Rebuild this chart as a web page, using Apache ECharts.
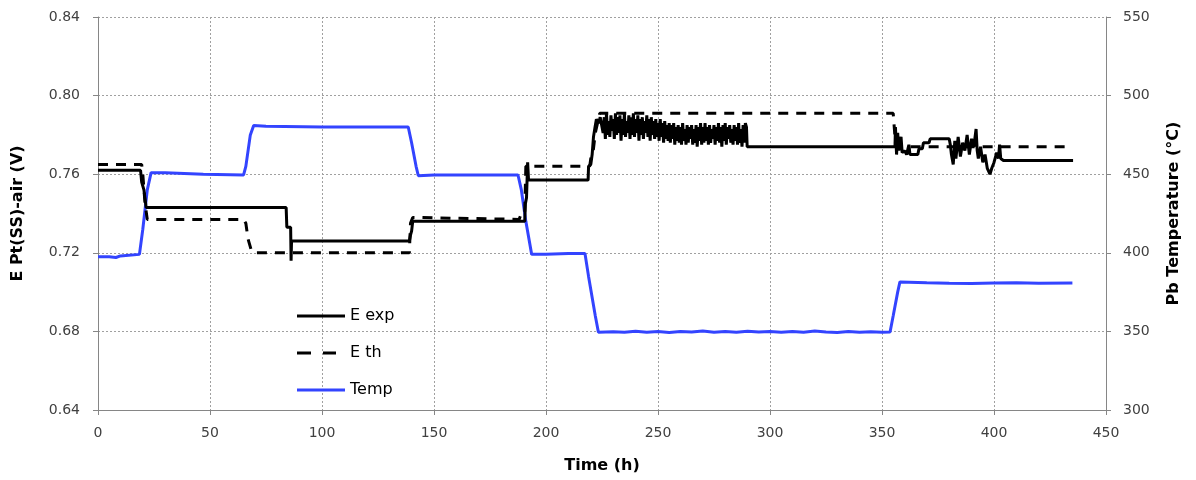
<!DOCTYPE html>
<html><head><meta charset="utf-8">
<script src="https://cdn.jsdelivr.net/npm/echarts@6/dist/echarts.min.js"></script>
<style>html,body{margin:0;padding:0;background:#fff}#c{width:1196px;height:480px}</style>
</head><body><div id="c"></div>
<script>
// Axis ticks
const xTicks = [0, 50, 100, 150, 200, 250, 300, 350, 400, 450];
const leftTicks = [0.64, 0.68, 0.72, 0.76, 0.80, 0.84];
const rightTicks = [300, 350, 400, 450, 500, 550];
const seriesNames = ['E exp', 'E th', 'Temp'];

// E exp (V): [time h, value]
const eExp = [[0,0.762],[19,0.762],[19.5,0.756],[20.5,0.752],[21.5,0.743],[84,0.743],[84.3,0.733],[86,0.733],[86.2,0.716],[86.4,0.726],
  [139,0.726],[139.5,0.729],[140,0.731],[140.5,0.736],[190.5,0.736],[190.8,0.745],[191.3,0.748],[191.8,0.766],[192.2,0.757],[218.8,0.757],
  [219,0.764],[220,0.765],[220.6,0.770],[221.2,0.779],[221.9,0.784],[222.5,0.788],[223.5,0.786],[224.2,0.789],
  [225,0.790],[225.5,0.781],[226,0.789],[226.5,0.778],[227,0.791],[227.5,0.780],[228,0.787],[228.5,0.779],[229,0.790],[229.5,0.782],
  [230,0.788],[230.5,0.778],[231,0.791],[231.5,0.780],[232,0.789],[232.5,0.781],[233,0.790],[233.5,0.777],[234,0.788],[234.5,0.780],
  [235,0.791],[235.5,0.779],[236,0.787],[236.5,0.781],[237,0.790],[237.5,0.778],[238,0.789],[238.5,0.780],[239,0.791],[239.5,0.779],
  [240,0.788],[240.5,0.781],[241,0.790],[241.5,0.777],[242,0.788],[242.5,0.780],[243,0.789],[243.5,0.778],[244,0.787],[244.5,0.781],
  [245,0.790],[245.5,0.779],[246,0.788],[246.5,0.777],[247,0.789],[247.5,0.780],[248,0.787],[248.5,0.778],[249,0.788],[249.5,0.779],
  [250,0.786],[250.5,0.777],[251,0.788],[251.5,0.779],[252,0.786],[252.5,0.776],[253,0.787],[253.5,0.778],[254,0.785],[254.5,0.777],
  [255,0.786],[255.5,0.776],[256,0.785],[256.5,0.778],[257,0.786],[257.5,0.775],[258,0.784],[258.5,0.777],[259,0.785],[259.5,0.776],
  [260,0.784],[260.5,0.775],[261,0.786],[261.5,0.777],[262,0.783],[262.5,0.775],[263,0.785],[263.5,0.776],[264,0.784],[264.5,0.778],
  [265,0.785],[265.5,0.775],[266,0.783],[266.5,0.776],[267,0.785],[267.5,0.774],[268,0.784],[268.5,0.777],[269,0.786],[269.5,0.775],
  [270,0.784],[270.5,0.776],[271,0.786],[271.5,0.777],[272,0.784],[272.5,0.775],[273,0.785],[273.5,0.776],[274,0.783],[274.5,0.778],
  [275,0.785],[275.5,0.775],[276,0.784],[276.5,0.777],[277,0.786],[277.5,0.776],[278,0.784],[278.5,0.774],[279,0.785],[279.5,0.777],
  [280,0.786],[280.5,0.775],[281,0.784],[281.5,0.778],[282,0.785],[282.5,0.776],[283,0.783],[283.5,0.775],[284,0.785],[284.5,0.777],
  [285,0.784],[285.5,0.775],[286,0.786],[286.5,0.776],[287,0.783],[287.5,0.774],[288,0.785],[288.5,0.776],[289,0.786],[289.5,0.784],[289.8,0.774],
  [355.8,0.774],[356,0.784],[356.5,0.770],[357,0.781],[357.5,0.772],[358.5,0.779],[359,0.771],[360,0.772],[361,0.770],[362,0.775],[362.5,0.770],
  [366,0.770],[366.5,0.773],[368,0.773],[368.5,0.776],[371,0.776],[371.5,0.778],[380,0.778],[380.5,0.775],[381,0.770],[381.8,0.765],
  [382.5,0.777],[383,0.768],[384,0.779],[385,0.769],[386,0.776],[387,0.772],[388,0.780],[389,0.770],[390,0.778],[391,0.774],[392,0.783],
  [392.5,0.772],[393,0.768],[394,0.774],[395,0.766],[396,0.770],[397,0.763],[398.2,0.760],[399,0.763],[400,0.766],[401.2,0.771],
  [402,0.768],[402.5,0.775],[403,0.768],[404.2,0.767],[435.3,0.767]];

// E th (V)
const eTh = [[0,0.765],[19.5,0.765],[20,0.760],[21,0.745],[22,0.737],[65,0.737],[66,0.735],[67,0.727],[68.5,0.721],[70,0.720],
  [139,0.720],[139.5,0.735],[140.5,0.738],[188,0.737],[189,0.740],[190.5,0.740],[191,0.764],[219.5,0.764],[220,0.768],[221,0.771],
  [222,0.781],[223,0.786],[224,0.791],[355,0.791],[356,0.776],[357,0.774],[435,0.774]];

// Pb temperature (°C)
const temp = [[0,397.5],[5,397.5],[8,397],[10,398],[18.5,399],[20,415],[22,440],[23.7,451],[30,451],[47,450],[65,449.5],[66,455],
  [68,475],[69.5,481],[75,480.5],[100,480],[138.5,480],[140,470],[142,455],[143,449],[150,449.5],[187.5,449.5],[189,440],[191,420],
  [193.6,399],[200,399],[210,399.5],[217.4,399.5],[219,385],[222,360],[223.4,349.5],
  [230,349.8],[235,349.4],[240,350.1],[245,349.5],[250,349.9],[255,349.3],[260,350],[265,349.6],[270,350.2],[275,349.4],[280,349.9],
  [285,349.5],[290,350.1],[295,349.6],[300,349.9],[305,349.4],[310,350],[315,349.5],[320,350.2],[325,349.6],[330,349.3],[335,350],
  [340,349.5],[345,349.8],[350,349.4],[353.6,349.6],[355,360],[357,375],[358,381.5],[370,381],[380,380.7],[390,380.5],[400,380.8],
  [410,381],[420,380.6],[435,380.8]];

const FONT = '"DejaVu Sans", sans-serif';
const chart = echarts.init(document.getElementById('c'), null, {renderer: 'canvas'});
const axisLine = {show: true, lineStyle: {color: '#868686', width: 1}};
const tick = {show: true, length: 5, lineStyle: {color: '#868686'}};
const split = {show: true, lineStyle: {color: '#a0a0a0', type: [2, 2], width: 1}};
const solidIcon = 'path://M0,0 H48 V3 H0 Z';
const dashIcon = 'path://M0,0 H14 V3 H0 Z M26,0 H39 V3 H26 Z M47.9,0 H48 V0.01 H47.9 Z';
chart.setOption({
  animation: false,
  grid: {left: 98, right: 90, top: 17, bottom: 70, containLabel: false},
  legend: {
    orient: 'vertical', left: 292, top: 303, itemWidth: 48, itemHeight: 3, itemGap: 21,
    textStyle: {fontFamily: FONT, fontSize: 16, color: '#000'},
    data: [
      {name: seriesNames[0], icon: solidIcon},
      {name: seriesNames[1], icon: dashIcon},
      {name: seriesNames[2], icon: solidIcon}
    ]
  },
  xAxis: {
    type: 'value', min: xTicks[0], max: xTicks[xTicks.length - 1], interval: 50,
    axisLine: axisLine, axisTick: tick, splitLine: split,
    axisLabel: {fontFamily: FONT, fontSize: 14, color: '#404040', margin: 16},
    name: 'Time (h)', nameLocation: 'middle', nameGap: 48,
    nameTextStyle: {fontFamily: FONT, fontSize: 16, fontWeight: 'bold', color: '#000'}
  },
  yAxis: [{
    type: 'value', min: leftTicks[0], max: leftTicks[leftTicks.length - 1], interval: 0.04,
    axisLine: axisLine, axisTick: tick, splitLine: split,
    axisLabel: {fontFamily: FONT, fontSize: 14, color: '#404040', margin: 18, formatter: v => v.toFixed(2)},
    name: 'E Pt(SS)-air (V)', nameLocation: 'middle', nameGap: 72, nameRotate: 90,
    nameTextStyle: {fontFamily: FONT, fontSize: 16, fontWeight: 'bold', color: '#000'}
  }, {
    type: 'value', min: rightTicks[0], max: rightTicks[rightTicks.length - 1], interval: 50, position: 'right',
    axisLine: axisLine, axisTick: tick, splitLine: {show: false},
    axisLabel: {fontFamily: FONT, fontSize: 14, color: '#404040', margin: 17},
    name: 'Pb Temperature (°C)', nameLocation: 'middle', nameGap: 60, nameRotate: 90,
    nameTextStyle: {fontFamily: FONT, fontSize: 16, fontWeight: 'bold', color: '#000'}
  }],
  series: [{
    name: seriesNames[0], type: 'line', yAxisIndex: 0, data: eExp, showSymbol: false, symbol: 'none',
    lineStyle: {color: '#000', width: 3}, itemStyle: {color: '#000'}, z: 3
  }, {
    name: seriesNames[1], type: 'line', yAxisIndex: 0, data: eTh, showSymbol: false, symbol: 'none',
    lineStyle: {color: '#000', width: 3, type: [10, 8]}, itemStyle: {color: '#000'}, z: 2
  }, {
    name: seriesNames[2], type: 'line', yAxisIndex: 1, data: temp, showSymbol: false, symbol: 'none',
    lineStyle: {color: '#3344ff', width: 3}, itemStyle: {color: '#3344ff'}, z: 1
  }]
});
</script></body></html>
